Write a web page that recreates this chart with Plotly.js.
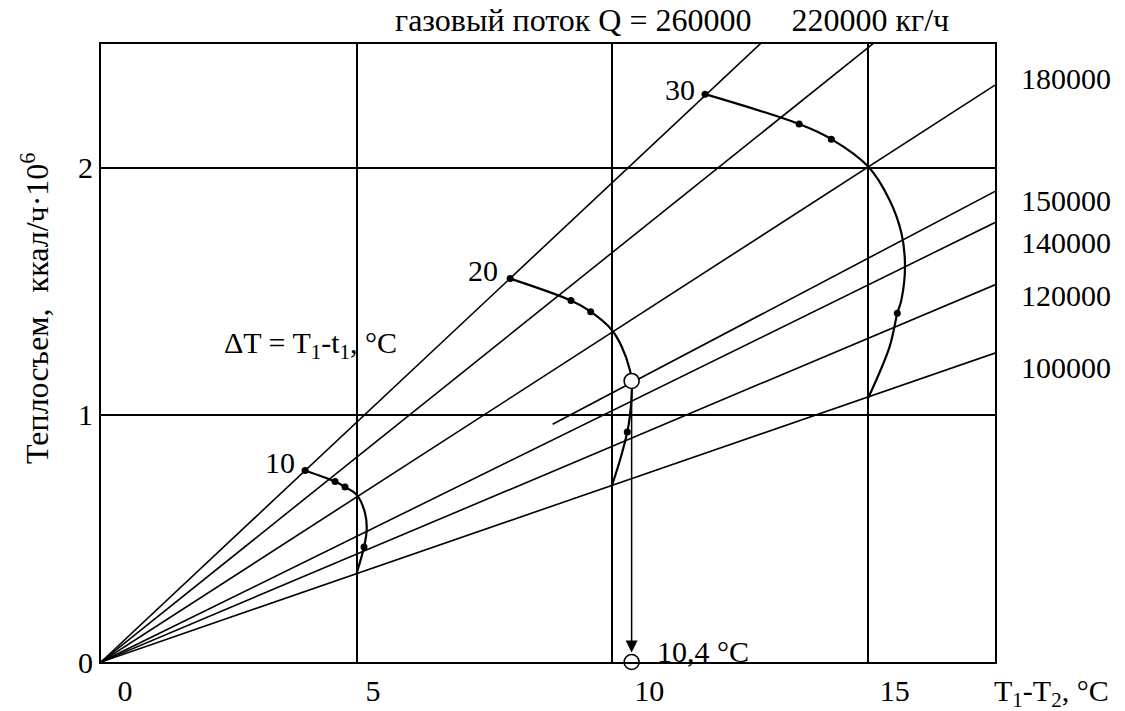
<!DOCTYPE html>
<html>
<head>
<meta charset="utf-8">
<script src="https://cdn.plot.ly/plotly-3.0.1.min.js"></script>
<style>html,body{margin:0;padding:0;background:#fff;}#chart{width:1125px;height:711px;}</style>
</head>
<body>
<div id="chart"></div>
<script>
// ---- data ----
const flowLabels = ['260000', '220000', '180000', '150000', '140000', '120000', '100000'];
const flowSlopes = [0.194, 0.1657, 0.1335, 0.1089, 0.1017, 0.0873, 0.0715]; // heat / (T1-T2)
const flowStartX = [0, 0, 0, 8.83, 0, 0, 0];

const dTLabels = ['10', '20', '30'];
const curve10X = [3.99, 4.576, 4.771, 5.0, 5.162, 5.195, 5.143, 5.0];
const curve10Y = [0.775, 0.730, 0.708, 0.676, 0.603, 0.535, 0.465, 0.360];
const curve20X = [8.0, 9.19, 9.574, 9.984, 10.18, 10.34, 10.375, 10.375, 10.34, 10.29, 10.15, 9.984];
const curve20Y = [1.551, 1.462, 1.417, 1.344, 1.276, 1.182, 1.137, 1.074, 0.993, 0.930, 0.818, 0.710];
const curve30X = [11.81, 13.65, 14.28, 15.0, 15.42, 15.65, 15.72, 15.65, 15.57, 15.42, 15.0];
const curve30Y = [2.297, 2.176, 2.115, 2.004, 1.868, 1.735, 1.600, 1.465, 1.411, 1.276, 1.068];

const dots10X = [3.99, 4.576, 4.771, 5.143];
const dots10Y = [0.775, 0.730, 0.708, 0.465];
const dots20X = [8.0, 9.19, 9.574, 10.29];
const dots20Y = [1.551, 1.462, 1.417, 0.930];
const dots30X = [11.81, 13.65, 14.28, 15.57];
const dots30Y = [2.297, 2.176, 2.115, 1.411];

const resultX = [10.375, 10.375];
const resultY = [1.137, 0];

const xTickVals = [0, 5, 10, 15];
const xTickText = ['0', '5', '10', '15'];
const xTickLabelPos = [0.47, 5.32, 10.72, 15.52];
const yTickVals = [0, 1, 2];

const X_MAX = 17.48, Y_MAX = 2.5;
// ---- drawing ----
const FONT = 'Liberation Serif';
const FS = 30;
const traces = [];
flowSlopes.forEach((k, i) => {
  const x0 = flowStartX[i];
  traces.push({x: [x0, X_MAX], y: [k * x0, k * X_MAX], mode: 'lines',
    line: {color: '#000', width: 1.6}, hoverinfo: 'skip', showlegend: false});
});
[[curve10X, curve10Y], [curve20X, curve20Y], [curve30X, curve30Y]].forEach(c => {
  traces.push({x: c[0], y: c[1], mode: 'lines', line: {color: '#000', width: 2.2, shape: 'spline', smoothing: 1},
    hoverinfo: 'skip', showlegend: false});
});
[[dots10X, dots10Y], [dots20X, dots20Y], [dots30X, dots30Y]].forEach(d => {
  traces.push({x: d[0], y: d[1], mode: 'markers', marker: {color: '#000', size: 7},
    hoverinfo: 'skip', showlegend: false});
});
traces.push({x: resultX, y: resultY, mode: 'markers', cliponaxis: false,
  marker: {color: '#fff', size: 15, line: {color: '#000', width: 1.6}}, hoverinfo: 'skip', showlegend: false});
// invisible trace for label axis
traces.push({x: [0], y: [0], xaxis: 'x2', mode: 'markers', marker: {opacity: 0}, hoverinfo: 'skip', showlegend: false});

const px = v => v / X_MAX, py = v => v / Y_MAX;
const txt = (text, x, y, xanchor, extra, size) => Object.assign({text: text, xref: 'paper', yref: 'paper',
  x: px(x), y: py(y), xanchor: xanchor || 'center', yanchor: 'middle', showarrow: false,
  font: {family: FONT, size: size || FS, color: '#000'}}, extra || {});

const NB = '\u00A0';
const annotations = [
  txt('газовый поток Q = ' + flowLabels[0] + NB.repeat(5) + flowLabels[1] + ' кг/ч', 11.16, 2.597, 'center', {}, 32),
  txt(flowLabels[2], 17.95, 2.359, 'left'),
  txt(flowLabels[3], 17.95, 1.865, 'left'),
  txt(flowLabels[4], 17.95, 1.695, 'left'),
  txt(flowLabels[5], 17.95, 1.481, 'left'),
  txt(flowLabels[6], 17.95, 1.190, 'left'),
  txt(dTLabels[0], 3.50, 0.807),
  txt(dTLabels[1], 7.47, 1.583),
  txt(dTLabels[2], 11.32, 2.314),
  txt('ΔT = T<sub>1</sub>-t<sub>1</sub>, °C', 2.37, 1.284, 'left'),
  txt('10,4 °C', 10.83, 0.042, 'left'),
  txt('T<sub>1</sub>-T<sub>2</sub>, °C', 17.42, -0.124, 'left'),
  txt('Теплосъем,' + NB + NB + 'ккал/ч·10<sup>6</sup>', -1.30, 1.43, 'center', {textangle: -90}, 32),
  {x: resultX[0], y: 0.038, ax: resultX[0], ay: 1.105, xref: 'x', yref: 'y', axref: 'x', ayref: 'y',
   showarrow: true, arrowhead: 2, arrowsize: 1.6, arrowwidth: 1.5, arrowcolor: '#000', text: ''}
];

const layout = {
  width: 1125, height: 711,
  margin: {l: 101, r: 130, t: 44, b: 49},
  paper_bgcolor: '#fff', plot_bgcolor: '#fff',
  showlegend: false,
  font: {family: FONT, size: FS, color: '#000'},
  xaxis: {range: [0, X_MAX], tickvals: xTickVals, showticklabels: false, ticks: '',
    showgrid: true, gridcolor: '#000', gridwidth: 2, zeroline: false,
    showline: true, linecolor: '#000', linewidth: 2, mirror: true, fixedrange: true},
  xaxis2: {range: [0, X_MAX], overlaying: 'x', anchor: 'y', side: 'bottom', tickvals: xTickLabelPos, ticktext: xTickText,
    showgrid: false, zeroline: false, showline: false, ticks: '', ticklabelstandoff: 8,
    tickfont: {family: FONT, size: FS, color: '#000'}},
  yaxis: {range: [0, Y_MAX], tickvals: yTickVals, ticks: '', showgrid: true, gridcolor: '#000', gridwidth: 2,
    zeroline: false, showline: true, linecolor: '#000', linewidth: 2, mirror: true,
    tickfont: {family: FONT, size: FS, color: '#000'}, fixedrange: true},
  annotations: annotations
};
Plotly.newPlot('chart', traces, layout, {staticPlot: true, displayModeBar: false});
</script>
</body>
</html>
